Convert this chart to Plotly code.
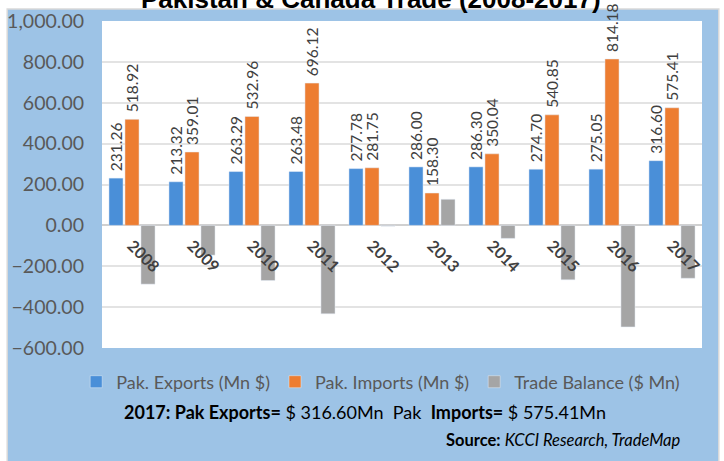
import plotly.graph_objects as go

years = ["2008", "2009", "2010", "2011", "2012", "2013", "2014", "2015", "2016", "2017"]
exports = [231.26, 213.32, 263.29, 263.48, 277.78, 286.00, 286.30, 274.70, 275.05, 316.60]
imports = [518.92, 359.01, 532.96, 696.12, 281.75, 158.30, 350.04, 540.85, 814.18, 575.41]
balance = [-287.66, -145.69, -269.67, -432.64, -3.97, 127.70, -63.74, -266.15, -497.0, -258.81]

FONT = "Lato, 'Liberation Sans', Arial, sans-serif"
PAD = "\u00a0"  # keeps the rotated value labels off the bar ends, as in the reference

fig = go.Figure()
fig.add_trace(go.Bar(
    x=years, y=exports, name="Pak. Exports (Mn $)",
    marker=dict(color="#4A8FD8"),
    text=[PAD + f"{v:.2f}" for v in exports], textposition="outside", textangle=-90,
    textfont=dict(family=FONT, size=15.5, color="#404040"),
    cliponaxis=False, constraintext="none",
))
fig.add_trace(go.Bar(
    x=years, y=imports, name="Pak. Imports (Mn $)",
    marker=dict(color="#ED7D31"),
    text=[PAD + f"{v:.2f}" for v in imports], textposition="outside", textangle=-90,
    textfont=dict(family=FONT, size=15.5, color="#404040"),
    cliponaxis=False, constraintext="none",
))
fig.add_trace(go.Bar(
    x=years, y=balance, name="Trade Balance ($ Mn)",
    marker=dict(color="#A5A5A5"),
))

fig.update_layout(
    width=724, height=461,
    margin=dict(l=102, r=22, t=21, b=113, autoexpand=False),
    paper_bgcolor="white",
    plot_bgcolor="rgba(0,0,0,0)",
    barmode="group", bargap=0.2, bargroupgap=0.12,
    font=dict(family=FONT, color="#595959"),
    showlegend=True,
    legend=dict(
        orientation="h", x=-0.043, xanchor="left", y=-0.104, yanchor="middle",
        font=dict(family=FONT, size=18, color="#595959"),
        bgcolor="rgba(0,0,0,0)",
        itemwidth=30, traceorder="normal",
    ),
    xaxis=dict(
        type="category", anchor="free", position=0.375, automargin=False,
        showgrid=False, showline=False, ticks="",
        tickangle=45, tickfont=dict(family=FONT, size=16, color="#404040", weight=700),
        ticklabelstandoff=7,
    ),
    yaxis=dict(
        range=[-600, 1000], dtick=200, tick0=0, tickformat=",.2f", automargin=False,
        showgrid=True, gridcolor="#E3E3E3", gridwidth=1.5,
        zeroline=True, zerolinecolor="#D0D0D0", zerolinewidth=2,
        showline=False, ticks="", ticklabelstandoff=17,
        tickfont=dict(family=FONT, size=19.5, color="#595959"),
    ),
    shapes=[
        dict(type="rect", xref="paper", yref="paper", layer="below",
             x0=-0.158, x1=1.028, y0=-0.4, y1=1.037,
             fillcolor="#9DC3E6", line=dict(color="#D9D9D9", width=1.5)),
        dict(type="rect", xref="paper", yref="paper", layer="below",
             x0=0, x1=1, y0=0, y1=1,
             fillcolor="white", line=dict(width=0)),
    ],
    annotations=[
        dict(text="<b>Pakistan & Canada Trade (2008-2017)</b>", xref="paper", yref="paper",
             x=0.448, y=1.067, xanchor="center", yanchor="middle", showarrow=False,
             font=dict(family="'Liberation Sans', Arial, sans-serif", size=26, color="#000000")),
        dict(text="<b>2017: Pak Exports=</b> $ 316.60Mn  Pak  <b>Imports=</b> $ 575.41Mn",
             xref="paper", yref="paper", x=0.438, y=-0.196, xanchor="center", yanchor="middle",
             showarrow=False, font=dict(family=FONT, size=18, color="#000000")),
        dict(text="<b>Source:</b> <i>KCCI Research, TradeMap</i>",
             xref="paper", yref="paper", x=0.968, y=-0.281, xanchor="right", yanchor="middle",
             showarrow=False, font=dict(family=FONT, size=16.5, color="#000000")),
    ],
)

fig.write_html(
    "out.html",
    config={"displayModeBar": False},
    post_script="document.body.style.margin='0';document.body.style.overflow='hidden';",
)
